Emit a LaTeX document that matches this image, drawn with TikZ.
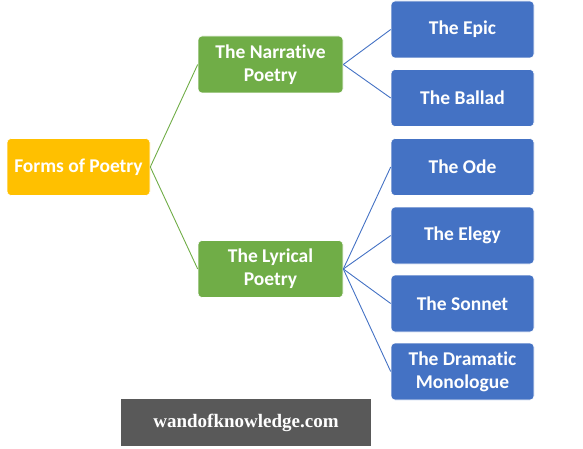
\documentclass[tikz,border=0pt]{standalone}
\usepackage{fontspec}
\setmainfont[Ligatures=NoCommon]{Carlito}
\newfontfamily\wmfont{Liberation Serif}
\definecolor{cOrange}{HTML}{FFC000}
\definecolor{cGreen}{HTML}{70AD47}
\definecolor{cBlue}{HTML}{4472C4}
\definecolor{cGray}{HTML}{595959}
\begin{document}
\begin{tikzpicture}[x=1pt,y=-1pt,
  box/.style={rounded corners=4pt,text=white,font=\fontsize{19.5}{23}\selectfont\bfseries,align=center,inner sep=0pt,minimum height=57pt,minimum width=143pt,draw=white,line width=0.6pt},
  rootbox/.style={box,fill=cOrange},
  midbox/.style={box,fill=cGreen,minimum width=145pt},
  leafbox/.style={box,fill=cBlue},
  glink/.style={draw=cGreen,line width=0.9pt},
  blink/.style={draw=cBlue,line width=0.9pt}]
\useasboundingbox (0,0) rectangle (583,449);
\node[rootbox] (root) at (78.5,167) {Forms of Poetry};
\node[midbox] (nar) at (270.5,64.5) {The Narrative\\Poetry};
\node[midbox] (lyr) at (270.5,269) {The Lyrical\\Poetry};
\node[leafbox] (epic) at (462.5,29.5) {The Epic};
\node[leafbox] (ballad) at (462.5,98) {The Ballad};
\node[leafbox] (ode) at (462.5,167) {The Ode};
\node[leafbox] (elegy) at (462.5,235.5) {The Elegy};
\node[leafbox] (sonnet) at (462.5,303.5) {The Sonnet};
\node[leafbox] (drama) at (462.5,371.5) {The Dramatic\\Monologue};
\node[fill=cGray,minimum width=250pt,minimum height=47pt,inner sep=0pt,text=white,font=\wmfont\fontsize{19}{21}\selectfont\bfseries] (wm) at (246,422.5) {wandofknowledge.com};
\path[glink] (root.east) -- (nar.west);
\path[glink] (root.east) -- (lyr.west);
\foreach \t in {epic,ballad} \path[blink] (nar.east) -- (\t.west);
\foreach \t in {ode,elegy,sonnet,drama} \path[blink] (lyr.east) -- (\t.west);
\end{tikzpicture}
\end{document}
